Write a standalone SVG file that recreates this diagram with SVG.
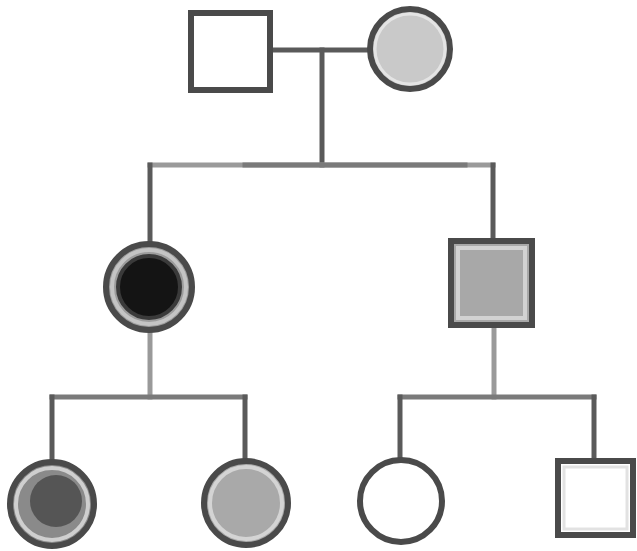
<svg xmlns="http://www.w3.org/2000/svg" width="637" height="551" viewBox="0 0 637 551">
  <style>
    .line { stroke: #5a5a5a; stroke-width: 5; fill: none; stroke-linecap: square; }
    .line-mid { stroke: #7a7a7a; stroke-width: 5; fill: none; stroke-linecap: square; }
    .line-light { stroke: #9a9a9a; stroke-width: 5; fill: none; stroke-linecap: square; }
    .shape { stroke: #4a4a4a; stroke-width: 6; }
    .inner { fill: none; stroke: #e4e4e4; stroke-width: 3; }
  </style>
  <rect width="637" height="551" fill="#ffffff"/>

  <!-- connectors -->
  <g id="connectors">
    <!-- couple line and descent -->
    <line class="line" x1="273" y1="50" x2="369" y2="50"/>
    <line class="line" x1="322" y1="50" x2="322" y2="165"/>
    <!-- sibling line -->
    <line class="line-light" x1="150" y1="165" x2="493" y2="165"/>
    <line class="line-mid" x1="245" y1="165" x2="465" y2="165"/>
    <line class="line" x1="150" y1="165" x2="150" y2="242"/>
    <line class="line" x1="493" y1="165" x2="493" y2="240"/>
    <!-- left family -->
    <line class="line-light" x1="150" y1="332" x2="150" y2="397"/>
    <line class="line-mid" x1="52" y1="397" x2="245" y2="397"/>
    <line class="line" x1="52" y1="397" x2="52" y2="461"/>
    <line class="line" x1="245" y1="397" x2="245" y2="460"/>
    <!-- right family -->
    <line class="line-light" x1="494" y1="326" x2="494" y2="397"/>
    <line class="line-mid" x1="400" y1="397" x2="594" y2="397"/>
    <line class="line" x1="400" y1="397" x2="400" y2="458"/>
    <line class="line" x1="594" y1="397" x2="594" y2="459"/>
  </g>

  <!-- generation I -->
  <g id="father">
    <rect class="shape" x="191" y="13" width="79" height="77" fill="#ffffff"/>
  </g>
  <g id="mother">
    <circle class="shape" cx="410" cy="49" r="40" fill="#c9c9c9"/>
    <circle class="inner" cx="410" cy="49" r="35"/>
  </g>

  <!-- generation II -->
  <g id="daughter">
    <circle class="shape" cx="149" cy="287" r="43" fill="#9c9c9c"/>
    <circle cx="149" cy="287" r="37" fill="none" stroke="#c4c4c4" stroke-width="4"/>
    <circle cx="149" cy="287" r="31" fill="#141414" stroke="#3a3a3a" stroke-width="4"/>
  </g>
  <g id="son">
    <rect class="shape" x="451" y="241" width="81" height="84" fill="#a8a8a8"/>
    <rect x="458" y="248" width="67" height="70" fill="none" stroke="#d2d2d2" stroke-width="4"/>
  </g>

  <!-- generation III -->
  <g id="granddaughter-1">
    <circle class="shape" cx="52" cy="504" r="42" fill="#8a8a8a"/>
    <circle cx="52" cy="504" r="36" fill="none" stroke="#cfcfcf" stroke-width="4"/>
    <circle cx="56" cy="501" r="26" fill="#555555"/>
  </g>
  <g id="granddaughter-2">
    <circle class="shape" cx="246" cy="503" r="42" fill="#a9a9a9"/>
    <circle cx="246" cy="503" r="36" fill="none" stroke="#d4d4d4" stroke-width="4"/>
  </g>
  <g id="granddaughter-3">
    <circle class="shape" cx="401" cy="501" r="41" fill="#ffffff"/>
  </g>
  <g id="grandson">
    <rect class="shape" x="558" y="461" width="75" height="74" fill="#ffffff"/>
    <rect x="564" y="467" width="63" height="62" fill="none" stroke="#e2e2e2" stroke-width="3"/>
  </g>
</svg>
